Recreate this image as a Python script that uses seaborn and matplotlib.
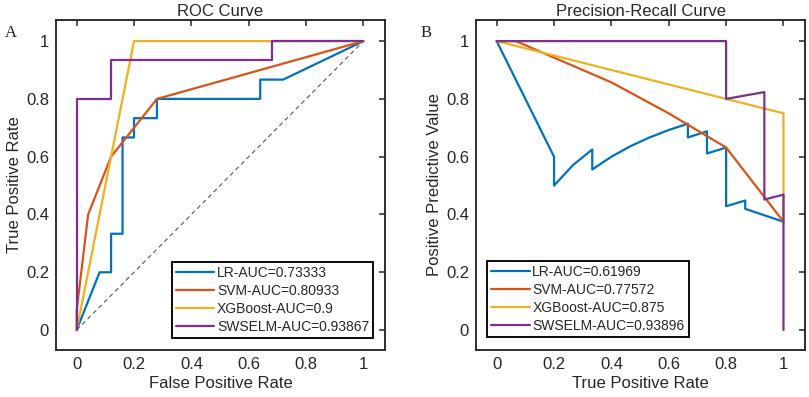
import numpy as np
import pandas as pd
import matplotlib
matplotlib.use("Agg")
import matplotlib.pyplot as plt
import seaborn as sns

# ---------------- data ----------------
roc_labels = ["LR-AUC=0.73333", "SVM-AUC=0.80933", "XGBoost-AUC=0.9", "SWSELM-AUC=0.93867"]
pr_labels = ["LR-AUC=0.61969", "SVM-AUC=0.77572", "XGBoost-AUC=0.875", "SWSELM-AUC=0.93896"]

# ROC curves (FPR, TPR)
lr_fpr = [0, 0.08, 0.12, 0.12, 0.16, 0.16, 0.20, 0.20, 0.28, 0.28, 0.64, 0.64, 0.72, 1.0]
lr_tpr = [0, 0.2, 0.2, 0.3333, 0.3333, 0.6667, 0.6667, 0.7333, 0.7333, 0.8, 0.8, 0.8667, 0.8667, 1.0]
svm_fpr = [0, 0, 0.04, 0.12, 0.28, 1.0]
svm_tpr = [0, 0.0667, 0.4, 0.6, 0.8, 1.0]
xgb_fpr = [0, 0.2, 1.0]
xgb_tpr = [0, 1.0, 1.0]
sw_fpr = [0, 0, 0.12, 0.12, 0.68, 0.68, 1.0]
sw_tpr = [0, 0.8, 0.8, 0.9333, 0.9333, 1.0, 1.0]

# Precision-recall curves (recall, precision)
lr_rec = [0, 0.2, 0.2, 0.2667, 0.3333, 0.3333, 0.4, 0.4667, 0.5333, 0.6, 0.6667, 0.6667,
          0.7333, 0.7333, 0.8, 0.8, 0.8667, 0.8667, 1.0]
lr_prec = [1.0, 0.6, 0.5, 0.5714, 0.625, 0.5556, 0.6, 0.6364, 0.6667, 0.6923, 0.7143, 0.6667,
           0.6875, 0.6111, 0.6316, 0.4286, 0.4483, 0.4194, 0.375]
svm_rec = [0, 0.0667, 0.4, 0.6, 0.8, 1.0]
svm_prec = [1.0, 1.0, 0.8571, 0.75, 0.6316, 0.375]
xgb_rec = [0, 1.0, 1.0]
xgb_prec = [1.0, 0.75, 0.375]
sw_rec = [0, 0.8, 0.8, 0.9333, 0.9333, 1.0, 1.0]
sw_prec = [1.0, 1.0, 0.8, 0.8235, 0.4516, 0.4688, 0.0]

ticks = [0, 0.2, 0.4, 0.6, 0.8, 1]
tick_labels = ["0", "0.2", "0.4", "0.6", "0.8", "1"]
colors = ["#0072BD", "#D95319", "#EDB120", "#7E2F8E"]

# ---------------- build frames ----------------
def make_df(xs, ys, labels):
    frames = []
    for x, y, lab in zip(xs, ys, labels):
        frames.append(pd.DataFrame({"x": x, "y": y, "model": lab}))
    return pd.concat(frames, ignore_index=True)

roc_df = make_df([lr_fpr, svm_fpr, xgb_fpr, sw_fpr], [lr_tpr, svm_tpr, xgb_tpr, sw_tpr], roc_labels)
pr_df = make_df([lr_rec, svm_rec, xgb_rec, sw_rec], [lr_prec, svm_prec, xgb_prec, sw_prec], pr_labels)

# ---------------- style ----------------
sns.set_style("white")
plt.rcParams["font.family"] = ["Liberation Sans", "DejaVu Sans"]

fig = plt.figure(figsize=(8.09, 3.97), dpi=100)
W, H = 809, 397
ax1 = fig.add_axes([56 / W, 1 - 350 / H, 329 / W, 330 / H])
ax2 = fig.add_axes([476 / W, 1 - 350 / H, 329 / W, 330 / H])

fs = 12
lfs = 10
txt = "#262626"

def style_axes(ax):
    ax.set_xlim(-0.072, 1.075)
    ax.set_ylim(-0.069, 1.073)
    ax.set_xticks(ticks)
    ax.set_xticklabels(tick_labels)
    ax.set_yticks(ticks)
    ax.set_yticklabels(tick_labels)
    ax.tick_params(direction="in", length=4.5, width=1.1, top=True, right=True,
                   labelsize=fs, colors=txt, pad=5)
    for s in ax.spines.values():
        s.set_color(txt)
        s.set_linewidth(1.35)

def style_legend(ax, loc, anchor):
    leg = ax.legend(loc=loc, bbox_to_anchor=anchor, fontsize=lfs,
                    frameon=True, fancybox=False, edgecolor="black", handlelength=2.75,
                    handletextpad=0.2, labelspacing=0.3, borderpad=0.3, borderaxespad=0)
    leg.get_frame().set_linewidth(1.35)
    leg.get_frame().set_alpha(1)
    for l in leg.get_lines():
        l.set_linewidth(1.6)
    for t in leg.get_texts():
        t.set_color(txt)

# ROC panel
ax1.plot([0, 1], [0, 1], linestyle=(0, (4, 3)), color="#555555", lw=0.8, zorder=1)
sns.lineplot(data=roc_df, x="x", y="y", hue="model", palette=colors, sort=False,
             estimator=None, units="model", lw=1.6, ax=ax1, legend=True, zorder=2)
style_axes(ax1)
ax1.set_title("ROC Curve", fontsize=12, pad=3, color=txt)
ax1.set_xlabel("False Positive Rate", fontsize=fs, color=txt, labelpad=3)
ax1.set_ylabel("True Positive Rate", fontsize=fs, color=txt, labelpad=3)
style_legend(ax1, "lower right", (0.9645, 0.035))

# PR panel
sns.lineplot(data=pr_df, x="x", y="y", hue="model", palette=colors, sort=False,
             estimator=None, units="model", lw=1.6, ax=ax2, legend=True)
style_axes(ax2)
ax2.set_title("Precision-Recall Curve", fontsize=12, pad=3, color=txt)
ax2.set_xlabel("True Positive Rate", fontsize=fs, color=txt, labelpad=3)
ax2.set_ylabel("Positive Predictive Value", fontsize=fs, color=txt, labelpad=3)
style_legend(ax2, "lower left", (0.034, 0.038))

# panel letters
fig.text(11 / W, 1 - 33 / H, "A", fontsize=12, family="Liberation Serif",
         ha="center", va="center", color="#222222")
fig.text(426 / W, 1 - 33 / H, "B", fontsize=12, family="Liberation Serif",
         ha="center", va="center", color="#222222")

fig.savefig("out.png", dpi=100)
